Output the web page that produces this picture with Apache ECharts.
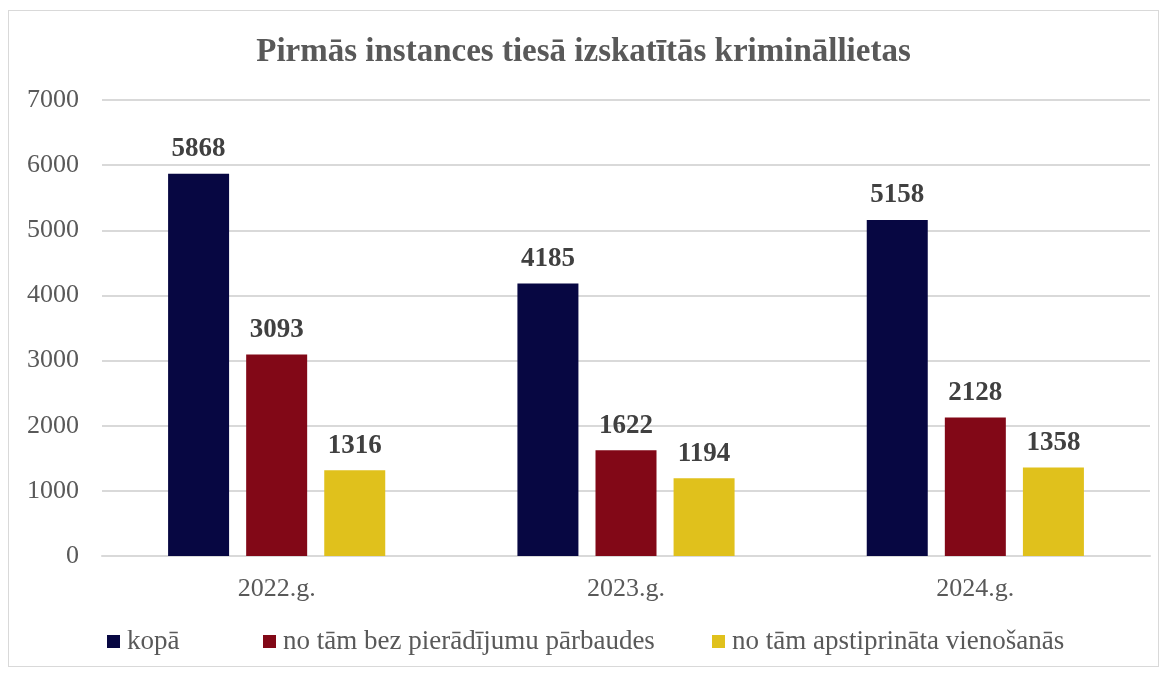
<!DOCTYPE html>
<html>
<head>
<meta charset="utf-8">
<script src="https://cdn.jsdelivr.net/npm/echarts@6/dist/echarts.min.js"></script>
<style>
  html, body { margin: 0; padding: 0; background: #fff; }
  #frame { position: absolute; left: 8px; top: 10px; width: 1151px; height: 657px; border: 1px solid #d9d9d9; box-sizing: border-box; }
  #main { position: absolute; left: 0; top: 0; width: 1167px; height: 675px; }
</style>
</head>
<body>
<div id="frame"></div>
<div id="main"></div>
<script>
// dati
var years = ['2022.g.', '2023.g.', '2024.g.'];
var kopa = [5868, 4185, 5158];
var bezParbaudes = [3093, 1622, 2128];
var vienosanas = [1316, 1194, 1358];
var seriesNames = ['kopā', 'no tām bez pierādījumu pārbaudes', 'no tām apstiprināta vienošanās'];
var colors = ['#070742', '#820817', '#e0c11c'];

var font = '"Liberation Serif", "Times New Roman", serif';
var legendLeft = [107, 263, 712];

var myChart = echarts.init(document.getElementById('main'));

function bar(name, data, color) {
    return {
        name: name,
        type: 'bar',
        data: data,
        barWidth: 61,
        barGap: '28%',
        itemStyle: { color: color },
        label: {
            show: true,
            position: 'top',
            distance: 11,
            color: '#404040',
            fontFamily: font,
            fontWeight: 'bold',
            fontSize: 27
        }
    };
}

// katrai leģendas vienībai sava pozīcija
var legends = seriesNames.map(function (n, i) {
    return {
        top: 628,
        left: legendLeft[i],
        itemWidth: 13,
        itemHeight: 13,
        itemGap: 0,
        icon: 'rect',
        data: [n],
        padding: 0,
        textStyle: { fontFamily: font, fontSize: 27, color: '#595959', padding: [0, 0, 0, 2] }
    };
});

var option = {
    animation: false,
    title: {
        text: 'Pirmās instances tiesā izskatītās krimināllietas',
        left: 'center',
        top: 31,
        textStyle: { fontFamily: font, fontWeight: 'bold', fontSize: 33, color: '#595959' }
    },
    legend: legends,
    grid: { left: 102, right: 17, top: 100, bottom: 119 },
    xAxis: {
        type: 'category',
        data: years,
        axisTick: { show: false },
        axisLine: { lineStyle: { color: '#d9d9d9', width: 2 } },
        axisLabel: { fontFamily: font, fontSize: 26, color: '#595959', margin: 20 }
    },
    yAxis: {
        type: 'value',
        min: 0,
        max: 7000,
        interval: 1000,
        axisLabel: {
            fontFamily: font, fontSize: 26, color: '#595959', margin: 23,
            formatter: function (v) { return String(v); }
        },
        splitLine: { lineStyle: { color: '#d9d9d9', width: 2 } }
    },
    series: [
        bar(seriesNames[0], kopa, colors[0]),
        bar(seriesNames[1], bezParbaudes, colors[1]),
        bar(seriesNames[2], vienosanas, colors[2])
    ]
};

myChart.setOption(option);
</script>
</body>
</html>
